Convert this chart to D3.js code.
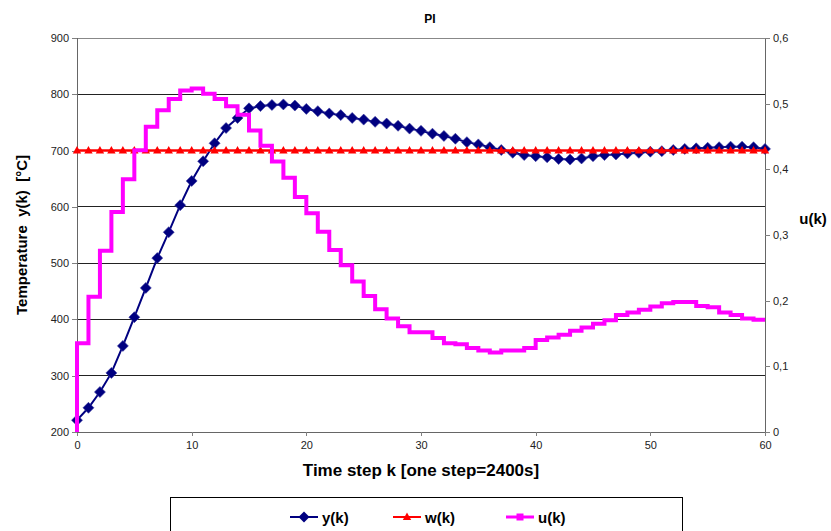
<!DOCTYPE html>
<html>
<head>
<meta charset="UTF-8" />
<script src="https://d3js.org/d3.v7.min.js"></script>
<style>
  body { margin: 0; background: #fff; }
  svg { display: block; font-family: "Liberation Sans", Arial, sans-serif; }
  .tick text { font-size: 11px; fill: #222; }
  .ttl { font-weight: bold; fill: #000; }
</style>
</head>
<body>
<svg width="831" height="531"></svg>
<script>
// temperature y(k), k = 0..60
const yVals = [221, 243, 271, 305, 353, 404, 456, 509, 555, 603, 646, 681, 713, 740, 758, 775, 779, 781, 782, 780,
  774, 770, 766, 763, 758, 755, 751, 748, 744, 739, 735, 730, 726, 721, 715, 711, 706, 701, 696, 692,
  690, 688, 685, 684, 686, 690, 692, 693, 695, 696, 698, 699, 701, 703, 704, 705, 706, 707, 707, 706, 703];
// setpoint w(k)
const wVal = 700;
// control u(k), held from k to k+1, k = 0..59
const uVals = [0.135, 0.206, 0.276, 0.335, 0.385, 0.429, 0.465, 0.490, 0.507, 0.520, 0.523, 0.515, 0.507, 0.496, 0.483,
  0.459, 0.436, 0.412, 0.387, 0.358, 0.333, 0.305, 0.277, 0.254, 0.229, 0.207, 0.187, 0.173, 0.161, 0.152,
  0.152, 0.143, 0.135, 0.1335, 0.128, 0.124, 0.121, 0.124, 0.124, 0.128, 0.140, 0.144, 0.148, 0.154, 0.159,
  0.165, 0.170, 0.178, 0.182, 0.186, 0.191, 0.196, 0.198, 0.198, 0.192, 0.190, 0.182, 0.178, 0.173, 0.171];
const xTicks = [0, 10, 20, 30, 40, 50, 60];
const leftTicks = [200, 300, 400, 500, 600, 700, 800, 900];
const rightTicks = [0, 0.1, 0.2, 0.3, 0.4, 0.5, 0.6];

const svg = d3.select("svg");
const L = 77, R = 765, T = 38, B = 432;
const x = d3.scaleLinear().domain([0, 60]).range([L, R]);
const yL = d3.scaleLinear().domain([200, 900]).range([B, T]);
const yR = d3.scaleLinear().domain([0, 0.6]).range([B, T]);

// grid
svg.append("g").selectAll("line")
  .data(leftTicks.slice(1))
  .join("line")
  .attr("x1", L).attr("x2", R)
  .attr("y1", d => yL(d)).attr("y2", d => yL(d))
  .attr("stroke", d => d === 900 ? "#888" : "#222")
  .attr("stroke-width", 1)
  .attr("shape-rendering", "crispEdges");

// axes
const gx = svg.append("g").attr("transform", `translate(0,${B})`)
  .call(d3.axisBottom(x).tickValues(xTicks).tickSize(4).tickPadding(5));
const gl = svg.append("g").attr("transform", `translate(${L},0)`)
  .call(d3.axisLeft(yL).tickValues(leftTicks).tickSize(5).tickPadding(3));
const gr = svg.append("g").attr("transform", `translate(${R},0)`)
  .call(d3.axisRight(yR).tickValues(rightTicks).tickSize(5).tickPadding(3)
    .tickFormat(d => d3.format(".1~f")(d).replace(".", ",")));
[gx, gl, gr].forEach(g => {
  g.selectAll("path, line").attr("stroke", "#808080").attr("shape-rendering", "crispEdges");
  g.select(".domain").attr("stroke", "#666");
  g.selectAll("text").attr("font-family", null);
});
gx.selectAll("text").attr("font-size", 11);

// y(k)
const lineY = d3.line().x((d, i) => x(i)).y(d => yL(d));
svg.append("path").datum(yVals)
  .attr("d", lineY).attr("fill", "none").attr("stroke", "#000080").attr("stroke-width", 2);
const diamond = "M0,-5.5L5.5,0L0,5.5L-5.5,0Z";
svg.append("g").selectAll("path")
  .data(yVals)
  .join("path")
  .attr("d", diamond)
  .attr("transform", (d, i) => `translate(${x(i)},${yL(d)})`)
  .attr("fill", "#000080").attr("stroke", "#3a3aa0").attr("stroke-width", 0.6);

// w(k)
const wData = d3.range(61).map(() => wVal);
svg.append("path").datum(wData)
  .attr("d", d3.line().x((d, i) => x(i)).y(d => yL(d)))
  .attr("fill", "none").attr("stroke", "#ff0000").attr("stroke-width", 2.5);
const tri = "M0,-4.5L4.2,3L-4.2,3Z";
svg.append("g").selectAll("path")
  .data(wData)
  .join("path")
  .attr("d", tri)
  .attr("transform", (d, i) => `translate(${x(i)},${yL(d)})`)
  .attr("fill", "#ff0000");

// u(k) step line
const uPts = [[0, 0]];
uVals.forEach((u, k) => { uPts.push([k, u]); uPts.push([k + 1, u]); });
svg.append("path").datum(uPts)
  .attr("d", d3.line().x(d => x(d[0])).y(d => yR(d[1])))
  .attr("fill", "none").attr("stroke", "#ff00ff").attr("stroke-width", 4)
  .attr("stroke-linejoin", "miter");

// titles
svg.append("text").attr("class", "ttl").attr("x", 430).attr("y", 23)
  .attr("text-anchor", "middle").attr("font-size", 12).text("PI");
svg.append("text").attr("class", "ttl").attr("x", 421).attr("y", 476)
  .attr("text-anchor", "middle").attr("font-size", 17).text("Time step k [one step=2400s]");
svg.append("text").attr("class", "ttl")
  .attr("transform", `translate(27,${(T + B) / 2}) rotate(-90)`)
  .attr("text-anchor", "middle").attr("font-size", 15)
  .style("white-space", "pre")
  .text("Temperature  y(k)  [°C]");
svg.append("text").attr("class", "ttl").attr("x", 813).attr("y", 224)
  .attr("text-anchor", "middle").attr("font-size", 15).text("u(k)");

// legend
svg.append("rect").attr("x", 170.5).attr("y", 497.5).attr("width", 512).attr("height", 60)
  .attr("fill", "#fff").attr("stroke", "#000").attr("stroke-width", 1);
const legend = [
  { name: "y(k)", color: "#000080", x1: 290, shape: diamond },
  { name: "w(k)", color: "#ff0000", x1: 393, shape: tri },
  { name: "u(k)", color: "#ff00ff", x1: 506, shape: "M-3.5,-3.5H3.5V3.5H-3.5Z" }
];
const ly = 517;
const lg = svg.append("g").selectAll("g").data(legend).join("g");
lg.append("line").attr("x1", d => d.x1).attr("x2", d => d.x1 + 28)
  .attr("y1", ly).attr("y2", ly).attr("stroke", d => d.color)
  .attr("stroke-width", d => d.name === "u(k)" ? 3 : 2);
lg.append("path").attr("d", d => d.shape)
  .attr("transform", d => `translate(${d.x1 + 14},${ly})`).attr("fill", d => d.color);
lg.append("text").attr("class", "ttl").attr("x", d => d.x1 + 32).attr("y", ly + 6)
  .attr("font-size", 15).text(d => d.name);
</script>
</body>
</html>
